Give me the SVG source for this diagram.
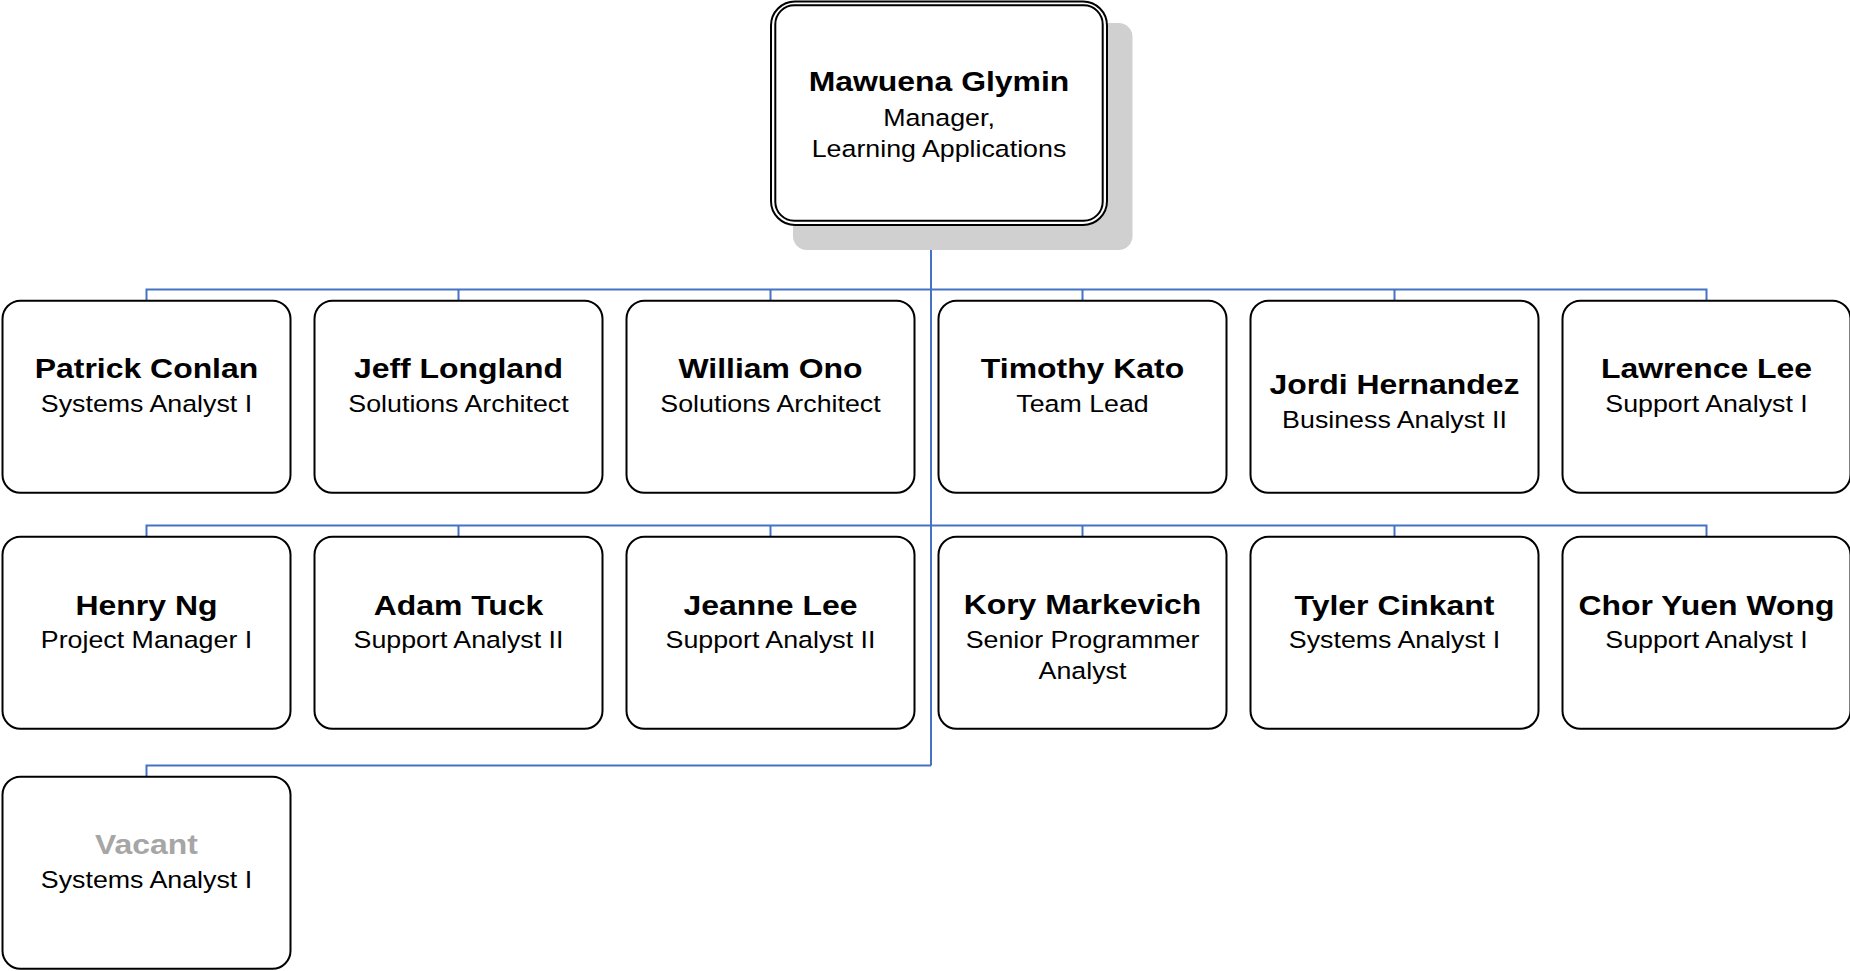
<svg xmlns="http://www.w3.org/2000/svg" width="1850" height="971" viewBox="0 0 1850 971">
<style>
.box{fill:#fff;stroke:#000;stroke-width:2}
.n{font-family:"Liberation Sans",Arial,sans-serif;font-weight:bold;font-size:28px;text-anchor:middle;fill:#000}
.t{font-family:"Liberation Sans",Arial,sans-serif;font-size:23.5px;text-anchor:middle;fill:#000}
.v{fill:#a6a6a6}
.c{fill:none;stroke:#4472C4;stroke-width:2}
</style>
<rect width="1850" height="971" fill="#fff"/>
<g id="connectors">
<path class="c" d="M931,225V765.5"/>
<path class="c" d="M146.5,300.7V289.5H1706.5V300.7"/>
<path class="c" d="M458.5,289.5V300.7M770.5,289.5V300.7M1082.5,289.5V300.7M1394.5,289.5V300.7"/>
<path class="c" d="M146.5,536.7V525.5H1706.5V536.7"/>
<path class="c" d="M458.5,525.5V536.7M770.5,525.5V536.7M1082.5,525.5V536.7M1394.5,525.5V536.7"/>
<path class="c" d="M146.5,776.7V765.5H931"/>
</g>
<g id="n-mawuena">
<rect x="793" y="23" width="339.5" height="227" rx="14" fill="#d0d0d0"/>
<rect class="box" x="771" y="1.5" width="336" height="223.5" rx="24"/>
<rect class="box" x="775.3" y="5.3" width="327.4" height="215.4" rx="19" fill="none"/>
<g transform="translate(939,0) scale(1.14,1)">
<text class="n" x="0" y="90.7">Mawuena Glymin</text>
<text class="t" x="0" y="126">Manager,</text>
<text class="t" x="0" y="156.7">Learning Applications</text>
</g>
</g>
<g id="n-patrick">
<rect class="box" x="2.5" y="300.7" width="288" height="192" rx="18"/>
<g transform="translate(146.5,0) scale(1.14,1)"><text class="n" x="0" y="378.3">Patrick Conlan</text><text class="t" x="0" y="411.7">Systems Analyst I</text></g>
</g>
<g id="n-jeff">
<rect class="box" x="314.5" y="300.7" width="288" height="192" rx="18"/>
<g transform="translate(458.5,0) scale(1.14,1)"><text class="n" x="0" y="378.3">Jeff Longland</text><text class="t" x="0" y="411.7">Solutions Architect</text></g>
</g>
<g id="n-william">
<rect class="box" x="626.5" y="300.7" width="288" height="192" rx="18"/>
<g transform="translate(770.5,0) scale(1.14,1)"><text class="n" x="0" y="378.3">William Ono</text><text class="t" x="0" y="411.7">Solutions Architect</text></g>
</g>
<g id="n-timothy">
<rect class="box" x="938.5" y="300.7" width="288" height="192" rx="18"/>
<g transform="translate(1082.5,0) scale(1.14,1)"><text class="n" x="0" y="378.3">Timothy Kato</text><text class="t" x="0" y="411.7">Team Lead</text></g>
</g>
<g id="n-jordi">
<rect class="box" x="1250.5" y="300.7" width="288" height="192" rx="18"/>
<g transform="translate(1394.5,0) scale(1.14,1)"><text class="n" x="0" y="394.3">Jordi Hernandez</text><text class="t" x="0" y="427.7">Business Analyst II</text></g>
</g>
<g id="n-lawrence">
<rect class="box" x="1562.5" y="300.7" width="288" height="192" rx="18"/>
<g transform="translate(1706.5,0) scale(1.14,1)"><text class="n" x="0" y="378.3">Lawrence Lee</text><text class="t" x="0" y="411.7">Support Analyst I</text></g>
</g>
<g id="n-henry">
<rect class="box" x="2.5" y="536.7" width="288" height="192" rx="18"/>
<g transform="translate(146.5,0) scale(1.14,1)"><text class="n" x="0" y="615.3">Henry Ng</text><text class="t" x="0" y="647.7">Project Manager I</text></g>
</g>
<g id="n-adam">
<rect class="box" x="314.5" y="536.7" width="288" height="192" rx="18"/>
<g transform="translate(458.5,0) scale(1.14,1)"><text class="n" x="0" y="615.3">Adam Tuck</text><text class="t" x="0" y="647.7">Support Analyst II</text></g>
</g>
<g id="n-jeanne">
<rect class="box" x="626.5" y="536.7" width="288" height="192" rx="18"/>
<g transform="translate(770.5,0) scale(1.14,1)"><text class="n" x="0" y="615.3">Jeanne Lee</text><text class="t" x="0" y="647.7">Support Analyst II</text></g>
</g>
<g id="n-kory">
<rect class="box" x="938.5" y="536.7" width="288" height="192" rx="18"/>
<g transform="translate(1082.5,0) scale(1.14,1)"><text class="n" x="0" y="614.3">Kory Markevich</text><text class="t" x="0" y="647.7">Senior Programmer</text><text class="t" x="0" y="679">Analyst</text></g>
</g>
<g id="n-tyler">
<rect class="box" x="1250.5" y="536.7" width="288" height="192" rx="18"/>
<g transform="translate(1394.5,0) scale(1.14,1)"><text class="n" x="0" y="615.3">Tyler Cinkant</text><text class="t" x="0" y="647.7">Systems Analyst I</text></g>
</g>
<g id="n-chor">
<rect class="box" x="1562.5" y="536.7" width="288" height="192" rx="18"/>
<g transform="translate(1706.5,0) scale(1.14,1)"><text class="n" x="0" y="615.3">Chor Yuen Wong</text><text class="t" x="0" y="647.7">Support Analyst I</text></g>
</g>
<g id="n-vacant">
<rect class="box" x="2.5" y="776.7" width="288" height="192" rx="18"/>
<g transform="translate(146.5,0) scale(1.14,1)"><text class="n v" x="0" y="854">Vacant</text><text class="t" x="0" y="888.3">Systems Analyst I</text></g>
</g>
</svg>
